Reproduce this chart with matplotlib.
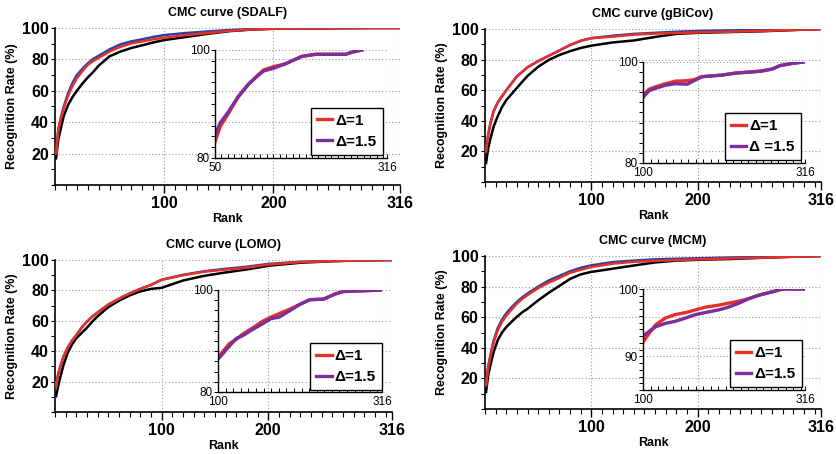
import matplotlib
matplotlib.use("Agg")
import matplotlib.pyplot as plt
from matplotlib.ticker import MultipleLocator, FixedLocator

plt.rcParams['font.family'] = ['Liberation Sans', 'DejaVu Sans']

# ---------------- data ----------------
titles = ["CMC curve (SDALF)", "CMC curve (gBiCov)", "CMC curve (LOMO)", "CMC curve (MCM)"]
legend_labels = [["Δ=1", "Δ=1.5"], ["Δ=1", "Δ =1.5"], ["Δ=1", "Δ=1.5"], ["Δ=1", "Δ=1.5"]]

ranks = [1, 3, 5, 8, 12, 16, 20, 25, 30, 35, 40, 50, 60, 70, 80, 90, 100,
         120, 140, 160, 180, 200, 230, 260, 290, 316]

sdalf_black = [17, 29, 35, 44, 51, 56, 60, 64.5, 68.5, 72, 76, 82, 85, 87.3, 89, 90.8, 92.3,
               94.3, 96.3, 98, 99, 99.5, 99.8, 99.9, 100, 100]
sdalf_red = [20, 35, 41, 49, 57, 63, 68, 72.5, 76.5, 79, 81, 85, 88, 90.2, 91.5, 92.8, 93.8,
             95.5, 96.8, 98.2, 99, 99.6, 99.8, 99.9, 100, 100]
sdalf_blue = [20, 35.5, 42, 50, 58.5, 65, 70, 74, 77.5, 80.3, 82.3, 86.4, 89.6, 91.5, 92.8, 94.3, 95.5,
              96.8, 97.8, 98.7, 99.3, 99.6, 99.8, 99.9, 100, 100]

gbicov_black = [12.4, 22, 28, 36, 43, 49, 53.5, 57.5, 61.5, 65.5, 69.3, 75.3, 79.8, 83, 85.5, 87.6, 89.1,
                91.2, 92.5, 94.8, 96.8, 97.5, 98, 98.5, 99.3, 100]
gbicov_red = [20, 31, 38, 46, 52, 56, 60, 64.5, 69, 72, 75, 79, 82.5, 86, 89.5, 92.3, 94,
              95, 96.3, 97, 97.4, 97.8, 98.2, 98.7, 99.4, 100]
gbicov_blue = [20, 31, 38, 46, 52, 56, 60, 64.5, 69, 72, 75, 79, 82.5, 86, 89.5, 92.3, 94,
               95.6, 96.8, 97.5, 98.2, 98.7, 99.1, 99.3, 99.7, 100]

lomo_black = [10.4, 17, 23, 31, 39, 44.5, 48.5, 52, 55.5, 59.5, 63, 69, 73.2, 76.7, 79.3, 81, 81.7,
              86.5, 89.6, 91.8, 93.8, 96.2, 98.2, 99.2, 99.8, 100]
lomo_red = [17, 25, 30, 36.5, 42.5, 47, 50.5, 55.5, 59.5, 62.8, 65.5, 70.7, 74.5, 78, 81, 83.6, 87,
            90, 92.3, 93.7, 95, 97, 98.6, 99.3, 99.8, 100]
lomo_blue = [17, 25, 30, 36.5, 42.5, 47, 50.5, 55.5, 59.5, 62.8, 65.5, 70.7, 74.5, 78, 81, 83.6, 87,
             90.2, 92.6, 94.2, 95.6, 97.4, 98.8, 99.4, 99.8, 100]

mcm_black = [11.3, 22, 28.5, 37, 45, 50, 53.5, 57, 60.3, 63.2, 65.5, 71, 76, 80.5, 85, 88, 89.6,
             91.7, 93.8, 95.8, 97, 97.5, 98, 98.8, 99.5, 100]
mcm_red = [15.6, 27, 34, 43, 51.5, 57, 61, 65, 69, 72, 74.5, 79, 82.6, 85.7, 89, 91, 92.8,
           95, 96.2, 96.8, 97.3, 97.8, 98.4, 98.9, 99.5, 100]
mcm_blue = [15.6, 28, 35, 44.5, 53, 58.5, 62.5, 66.5, 70, 73, 75.5, 80, 84, 87, 90, 92.3, 93.9,
            96, 97, 97.8, 98.2, 98.5, 99, 99.3, 99.7, 100]

# insets
sdalf_in_ranks = [50, 58, 71, 86, 102, 115, 125, 140, 158, 184, 205, 252, 262, 277]
sdalf_in_red = [83, 85.8, 88.3, 91.3, 93.7, 95.2, 96.3, 96.9, 97.4, 98.8, 99.2, 99.2, 99.6, 100]
sdalf_in_purple = [84.3, 86.5, 88.6, 91.4, 93.7, 95.1, 96.1, 96.6, 97.4, 98.8, 99.2, 99.2, 99.6, 100]

gbicov_in_ranks = [100, 108, 117, 130, 143, 159, 168, 179, 205, 223, 241, 258, 272, 283, 298, 314]
gbicov_in_red = [93.4, 94.6, 95.1, 95.7, 96.2, 96.3, 96.5, 97.1, 97.4, 97.8, 98, 98.2, 98.6, 99.3, 99.7, 100]
gbicov_in_purple = [93, 94.3, 94.8, 95.4, 95.7, 95.6, 96.3, 97.1, 97.4, 97.8, 98, 98.2, 98.6, 99.3, 99.7, 100]

lomo_in_ranks = [100, 115, 124, 132, 146, 159, 170, 181, 194, 208, 221, 239, 254, 265, 316]
lomo_in_red = [86.8, 89.5, 90.3, 91.3, 92.6, 93.9, 94.7, 95.4, 96.2, 97.2, 98.1, 98.2, 99.2, 99.7, 100]
lomo_in_purple = [86.4, 89, 90.5, 91, 92.3, 93.4, 94.4, 94.7, 95.9, 97.2, 98.1, 98.2, 99.2, 99.7, 100]

mcm_in_ranks = [100, 108, 117, 130, 143, 157, 170, 183, 201, 214, 228, 242, 255, 273, 286, 314]
mcm_in_red = [92.1, 93.4, 94.7, 95.7, 96.2, 96.5, 96.9, 97.3, 97.6, 97.9, 98.2, 98.6, 99.1, 99.6, 100, 100]
mcm_in_purple = [93, 93.7, 94.4, 94.9, 95.2, 95.7, 96.2, 96.5, 96.9, 97.3, 97.9, 98.6, 99.1, 99.6, 100, 100]

main_series = [(sdalf_blue, sdalf_red, sdalf_black),
               (gbicov_blue, gbicov_red, gbicov_black),
               (lomo_blue, lomo_red, lomo_black),
               (mcm_blue, mcm_red, mcm_black)]
inset_series = [(sdalf_in_ranks, sdalf_in_red, sdalf_in_purple),
                (gbicov_in_ranks, gbicov_in_red, gbicov_in_purple),
                (lomo_in_ranks, lomo_in_red, lomo_in_purple),
                (mcm_in_ranks, mcm_in_red, mcm_in_purple)]
inset_xlims = [(50, 316), (100, 316), (100, 316), (100, 316)]
inset_ylims = [(80, 100), (80, 100), (80, 100), (85, 100)]
inset_yticks = [[80, 100], [80, 100], [80, 100], [90, 100]]

main_x_ticks = [100, 200, 316]
main_y_ticks = [20, 40, 60, 80, 100]

# ---------------- layout ----------------
W, H = 836, 454
main_px = [(55, 28, 400, 185), (485, 29, 821, 182), (55, 260, 392, 412), (485, 256, 821, 409)]
inset_px = [(215, 50, 387, 158), (643, 62, 805, 163), (218, 290, 382, 392), (643, 289, 805, 390)]
ylab_right_px = [18, 448, 18, 448]
legend_anchor = [(0.975, 0.03), (0.975, 0.03), (1.0, 0.02), (0.98, 0.03)]

RED = '#e8302a'
BLUE = '#2b3fa6'
PURPLE = '#7a2f9a'
GRID = dict(color='#9a9a9a', linestyle=(0, (1, 2)), linewidth=0.8)


def rect(px):
    l, t, r, b = px
    return [l / W, 1 - b / H, (r - l) / W, (b - t) / H]


fig = plt.figure(figsize=(W / 100, H / 100), dpi=100)

for i in range(4):
    ax = fig.add_axes(rect(main_px[i]))
    blue, red, black = main_series[i]
    ax.plot(ranks, blue, color=BLUE, lw=1.8, zorder=3)
    ax.plot(ranks, red, color=RED, lw=1.8, zorder=4)
    ax.plot(ranks, black, color='black', lw=1.8, zorder=2)
    ax.set_xlim(0, 316)
    ax.set_ylim(0, 100)
    ax.xaxis.set_major_locator(FixedLocator(main_x_ticks))
    ax.xaxis.set_minor_locator(MultipleLocator(10))
    ax.yaxis.set_major_locator(FixedLocator(main_y_ticks))
    ax.yaxis.set_minor_locator(MultipleLocator(10))
    ax.grid(True, which='major', **GRID)
    for s in ['top', 'right']:
        ax.spines[s].set_visible(False)
    for s in ['left', 'bottom']:
        ax.spines[s].set_linewidth(1.2)
    ax.tick_params(axis='x', which='major', direction='out', length=6, width=1.0, pad=2)
    ax.tick_params(axis='x', which='minor', direction='out', length=3.5, width=0.8)
    ax.tick_params(axis='y', which='both', direction='out', length=3, width=0.8, pad=1.5)
    for lab in ax.get_xticklabels() + ax.get_yticklabels():
        lab.set_fontweight('bold')
        lab.set_fontsize(11.5)
    ax.set_title(titles[i], fontsize=9, fontweight='bold', pad=8.5)
    l, t, r, b = main_px[i]
    ax.set_xlabel("Rank", fontsize=9, fontweight='bold')
    ax.xaxis.set_label_coords(0.5, -28 / (b - t))
    ax.set_ylabel("Recognition Rate (%)", fontsize=9, fontweight='bold')
    ax.yaxis.set_label_coords((ylab_right_px[i] - l) / (r - l), 0.5)

    # inset
    ia = fig.add_axes(rect(inset_px[i]))
    ia.patch.set_alpha(0)
    ir, ired, ipur = inset_series[i]
    ia.plot(ir, ired, color=RED, lw=2.4, label=legend_labels[i][0])
    ia.plot(ir, ipur, color=PURPLE, lw=2.4, label=legend_labels[i][1])
    ia.set_xlim(*inset_xlims[i])
    ia.set_ylim(*inset_ylims[i])
    ia.xaxis.set_major_locator(FixedLocator(list(inset_xlims[i])))
    ia.xaxis.set_minor_locator(MultipleLocator(10))
    ia.yaxis.set_major_locator(FixedLocator(inset_yticks[i]))
    ia.yaxis.set_minor_locator(MultipleLocator(2 if i < 3 else 1))
    ia.grid(True, which='major', **GRID)
    for s in ['top', 'right']:
        ia.spines[s].set_visible(False)
    for s in ['left', 'bottom']:
        ia.spines[s].set_linewidth(1.0)
    ia.tick_params(axis='x', which='both', direction='in', length=3, width=0.7, pad=3, labelsize=8.5)
    ia.tick_params(axis='y', which='both', direction='out', length=3, width=0.7, pad=1, labelsize=8.5)
    leg = ia.legend(loc='lower right', bbox_to_anchor=legend_anchor[i], borderaxespad=0,
                    prop=dict(weight='bold', size=11), handlelength=1.0, handletextpad=0.2,
                    labelspacing=0.45, borderpad=0.4, fancybox=False, framealpha=1,
                    edgecolor='black')
    leg.get_frame().set_linewidth(1.0)

fig.savefig("out.png", dpi=100)
